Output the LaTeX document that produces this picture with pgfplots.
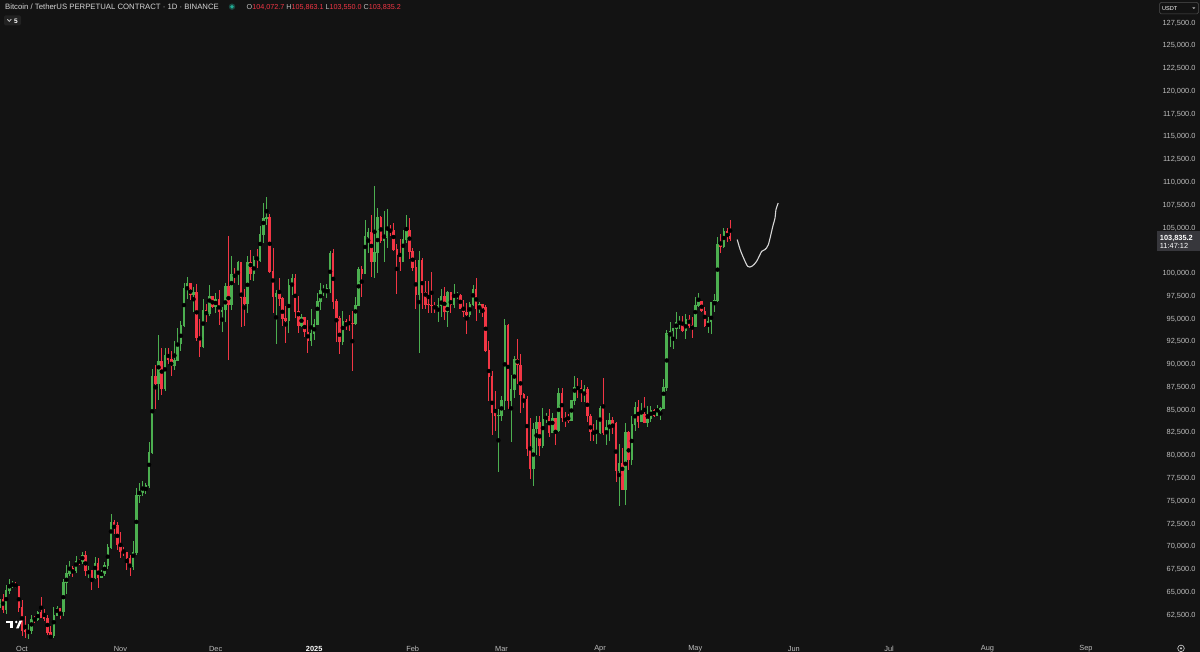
\documentclass[border=0pt]{standalone}
\usepackage{pgfplots}
\pgfplotsset{compat=1.18}
\usepackage{pgfplotstable}
\usepackage{fontspec}
\setmainfont{Liberation Sans}

\definecolor{bg}{RGB}{19,19,19}
\definecolor{upc}{RGB}{76,175,80}
\definecolor{dnc}{RGB}{242,54,69}
\definecolor{lbl}{RGB}{190,190,190}
\definecolor{titlec}{RGB}{214,214,214}
\definecolor{boxc}{RGB}{55,55,60}
\definecolor{dotc}{RGB}{34,171,148}
\definecolor{pen}{RGB}{215,215,215}

\newcommand\lblfont{\fontsize{7.4}{8.5}\selectfont}

% daily candles, d = days since 1 Oct 2024 (BTCUSDT perpetual, Binance)
\pgfplotstableread{
d o h l c
-7 63330 64800 62700 64260
-6 64260 64820 62700 63150
-5 63150 65840 62670 65180
-4 65180 66500 64800 65790
-3 65790 66260 65420 65890
-2 65890 66080 65420 65600
-1 65600 65620 62850 63330
0 63330 64130 60160 60800
1 60800 62390 60000 60650
2 60650 61470 59830 60750
3 60750 62480 60460 62070
4 62070 62370 61680 62050
5 62050 62980 61800 62820
6 62820 64480 62130 62220
7 62220 63200 61820 62130
8 62130 62530 60300 60580
9 60580 61320 58900 60270
10 60270 63420 60000 62450
11 62450 63480 62450 63190
12 63190 63280 62050 62850
13 62850 66500 62420 66050
14 66050 67950 64800 67040
15 67040 68420 66750 67610
16 67610 67930 66650 67400
17 67400 68980 67120 68430
18 68430 68690 68020 68360
19 68360 69400 68100 69000
20 69000 69520 66820 67370
21 67370 67840 66570 67380
22 67380 67450 65260 66650
23 66650 68850 66500 68170
24 68170 68780 65520 66630
25 66630 67450 66560 67000
26 67000 68350 66800 67940
27 67940 70270 67550 69910
28 69910 73620 69730 72720
29 72720 72960 71430 72340
30 72340 72700 69690 70220
31 70220 71630 68780 69500
32 69500 70000 68950 69370
33 69370 69400 67470 68770
34 68770 69050 66800 67810
35 67810 70580 67450 69360
36 69360 76400 69060 75640
37 75640 76950 74830 75900
38 75900 77200 75560 76550
39 76550 76950 75750 76680
40 76680 81500 76490 80370
41 80370 89530 80220 88700
42 88700 89940 85070 87960
43 87960 93270 86130 90400
44 90400 91790 86670 87320
45 87320 91850 87100 91060
46 91060 91800 90090 90580
47 90580 91450 88720 89850
48 89850 92600 89380 90470
49 90470 94000 90380 92310
50 92310 94830 91500 94290
51 94290 98970 94100 98350
52 98350 99590 97170 98890
53 98890 98890 97130 97670
54 97670 98560 95800 97900
55 97900 98870 92600 93010
56 93010 94970 90790 91970
57 91970 97210 91800 95950
58 95950 96650 94670 95640
59 95640 98690 95380 97460
60 97460 97500 96160 96410
61 96410 97840 95690 97180
62 97180 98150 94400 95840
63 95840 96300 93580 95990
64 95990 99000 94660 98580
65 98580 104090 90500 96590
66 96590 101900 95980 99920
67 99920 100550 98950 99890
68 99890 101400 98770 101170
69 101170 101200 94150 97320
70 97320 98270 94260 96680
71 96680 101890 95620 101170
72 101170 102540 99310 100040
73 100040 101900 99210 101460
74 101460 102650 100630 101370
75 101370 105250 101240 104300
76 104300 107780 103320 106060
77 106060 108350 105320 106140
78 106140 106520 100000 100200
79 100200 102800 95670 97460
80 97460 98140 92230 97760
81 97760 99540 96400 97220
82 97220 97400 94200 95100
83 95100 96420 92400 94880
84 94880 99420 93450 98690
85 98690 99960 97600 99410
86 99410 99960 95140 95800
87 95800 97550 93500 94260
88 94260 95540 94090 95180
89 95180 95200 93050 93570
90 93570 94900 91300 92650
91 92650 96150 92000 93400
92 93400 95000 92750 94420
93 94420 97850 94400 96890
94 96890 98980 96030 98110
95 98110 98730 97530 98240
96 98240 98830 97280 98340
97 98340 102480 97900 102240
98 102240 102710 96120 96950
99 96950 97250 92500 95040
100 95040 95350 91200 92480
101 92480 95850 92200 94700
102 94700 95000 93830 94560
103 94560 95400 93700 94520
104 94520 95880 89260 94500
105 94500 97370 94300 96530
106 96530 100680 96500 100500
107 100500 100850 97370 99990
108 99990 105880 99950 104080
109 104080 104950 102280 104560
110 104560 106400 99650 101330
111 101330 109600 99550 102260
112 102260 107240 100100 106140
113 106140 106330 103350 103650
114 103650 106850 101250 103960
115 103960 107120 102750 104820
116 104820 105290 104110 104710
117 104710 105500 102520 102590
118 102590 103220 97780 102080
119 102080 103800 100270 101330
120 101330 104800 101300 103730
121 103730 106460 103300 104730
122 104730 106100 101560 102430
123 102430 102750 100280 100650
124 100650 101460 96150 97690
125 97690 102500 91230 101400
126 101400 101730 96150 97870
127 97870 99220 96150 96620
128 96620 99200 95650 96550
129 96550 100140 95620 96460
130 96460 96880 95700 96450
131 96450 97320 94730 96460
132 96460 98350 95250 97430
133 97430 98500 94850 95780
134 95780 98120 94090 97870
135 97870 98000 95700 96610
136 96610 98830 96250 97500
137 97500 97970 97220 97570
138 97570 97730 96050 96120
139 96120 97050 95200 95770
140 95770 96750 93390 95540
141 95540 96900 95230 96630
142 96630 98770 96430 98300
143 98300 99510 94800 96140
144 96140 96880 95690 96580
145 96580 96600 95210 96270
146 96270 96500 91370 91550
147 91550 92540 86050 88730
148 88730 89350 82250 84700
149 84700 87050 82750 84350
150 84350 85120 78250 84370
151 84370 86560 83820 86030
152 86030 95000 85050 94270
153 94270 94420 85080 86070
154 86070 88900 81500 87220
155 87220 90990 86380 90620
156 90620 92800 87850 89960
157 89960 91200 84670 86740
158 86740 86850 85250 86150
159 86150 86500 80000 80730
160 80730 84120 77460 78530
161 78530 83620 76620 82930
162 82930 84360 80070 83680
163 83680 84300 79940 81070
164 81070 85260 80800 83970
165 83970 84670 83630 84340
166 84340 85120 82000 82580
167 82580 84730 82470 84080
168 84080 84100 81130 82720
169 82720 87450 82600 86850
170 86850 87440 83650 84170
171 84170 84780 83170 84040
172 84040 84550 83640 83830
173 83830 86130 83790 86080
174 86080 88750 85540 87500
175 87500 88540 86310 87390
176 87390 88290 85860 86910
177 86910 87790 85860 87230
178 87230 87520 83650 84350
179 84350 84570 81640 82650
180 82650 83500 81560 82390
181 82390 83940 81280 82550
182 82550 85490 82430 85160
183 85160 88500 82320 82500
184 82500 83950 81200 83100
185 83100 84720 81660 83840
186 83840 84230 82370 83500
187 83500 83750 77150 78370
188 78370 81240 74510 79160
189 79160 80860 76240 76320
190 76320 83590 74620 82600
191 82600 82700 78460 79600
192 79600 84300 78930 83400
193 83400 85880 82760 85280
194 85280 86100 83080 83740
195 83740 85800 83680 84540
196 84540 86450 83600 83620
197 83620 85500 83130 84030
198 84030 85450 83750 84940
199 84940 85100 84280 84450
200 84450 85600 84350 85060
201 85060 85320 83950 85170
202 85170 88460 85140 87520
203 87520 93820 87080 93440
204 93440 94700 91930 93690
205 93690 94000 91660 93980
206 93980 95750 92800 94640
207 94640 95300 93880 94650
208 94650 95350 93620 93750
209 93750 95600 92800 94980
210 94980 95450 93980 94280
211 94280 95210 92900 94170
212 94170 97420 94100 96490
213 96490 97880 96350 96900
214 96900 96950 95750 95890
215 95890 96320 94150 94320
216 94320 95180 93520 94750
217 94750 96900 93370 96800
218 96800 97700 95800 97030
219 97030 103960 96880 103240
220 103240 104350 102240 102970
221 102970 104980 102820 104630
222 104630 104950 103500 104072.7
223 104072.7 105863.1 103550 103835.2
}\candles

\begin{document}
\begin{tikzpicture}[x=1pt,y=1pt]
\fill[bg] (0,0) rectangle (1200,652);
\useasboundingbox (0,0) rectangle (1200,652);

\begin{axis}[
  at={(0,15)}, anchor=south west,
  width=1155pt, height=637pt, scale only axis,
  xmin=-6.927, xmax=356.74,
  ymin=59944, ymax=129882,
  axis line style={draw=none},
  major tick length=0pt,
  scaled y ticks=false,
  ytick={62500,65000,67500,70000,72500,75000,77500,80000,82500,85000,
         87500,90000,92500,95000,97500,100000,105000,107500,110000,
         112500,115000,117500,120000,122500,125000,127500},
  yticklabel pos=right,
  yticklabel style={anchor=east, xshift=44pt,
    /pgf/number format/.cd, fixed, fixed zerofill, precision=1,
    1000 sep={,}, assume math mode=true},
  xtick={0,31,61,92,123,151,182,212,243,273,304,335},
  xticklabels={Oct,Nov,Dec,{\color{white}\bfseries 2025},Feb,Mar,Apr,May,Jun,Jul,Aug,Sep},
  xticklabel style={anchor=center, yshift=-10.6pt},
  tick label style={font=\lblfont, text=lbl},
]
% wicks: low to high
\addplot[only marks, mark=none, forget plot,
  restrict expr to domain={\thisrow{c}-\thisrow{o}}{0:1000000},
  error bars/.cd, y dir=both, y explicit, error mark=none,
  error bar style={draw=upc, line width=0.8pt}]
  table[x=d, y expr={(\thisrow{h}+\thisrow{l})/2},
        y error expr={(\thisrow{h}-\thisrow{l})/2}] {\candles};
\addplot[only marks, mark=none, forget plot,
  restrict expr to domain={\thisrow{c}-\thisrow{o}}{-1000000:-0.01},
  error bars/.cd, y dir=both, y explicit, error mark=none,
  error bar style={draw=dnc, line width=0.8pt}]
  table[x=d, y expr={(\thisrow{h}+\thisrow{l})/2},
        y error expr={(\thisrow{h}-\thisrow{l})/2}] {\candles};
% bodies: open to close, as vertical vectors
\addplot[forget plot, draw=upc, line width=2.5pt, line cap=butt,
  restrict expr to domain={\thisrow{c}-\thisrow{o}}{0:1000000},
  quiver={u=0, v={abs(\thisrow{c}-\thisrow{o})+90}}]
  table[x=d, y expr={min(\thisrow{o},\thisrow{c})-45}] {\candles};
\addplot[forget plot, draw=dnc, line width=2.5pt, line cap=butt,
  restrict expr to domain={\thisrow{c}-\thisrow{o}}{-1000000:-0.01},
  quiver={u=0, v={abs(\thisrow{c}-\thisrow{o})+90}}]
  table[x=d, y expr={min(\thisrow{o},\thisrow{c})-45}] {\candles};
% hand-drawn projection
\addplot[smooth, tension=0.5, draw=pen, line width=1.1pt] coordinates {
  (225.2,103719) (226.1,102654) (227.2,101699) (228.5,100787)
  (229.8,100787) (231.3,101336) (232.9,102434) (233.9,102620)
  (235.0,103170) (236.4,105179) (237.1,106090) (237.4,107012)
  (238.1,107737)};
\end{axis}

% header
\node[anchor=base west, inner sep=0, text=titlec, font=\fontsize{7.75}{9}\selectfont]
  at (5,642.3) {Bitcoin / TetherUS PERPETUAL CONTRACT · 1D · BINANCE};
\fill[dotc, opacity=0.35] (232,645.3) circle (3.2);
\fill[dotc] (232,645.3) circle (1.9);
\node[anchor=base west, inner sep=0, font=\fontsize{7.2}{9}\selectfont]
  at (246.5,642.3) {{\color{lbl}O}{\color{dnc}104,072.7} {\color{lbl}H}{\color{dnc}105,863.1}
   {\color{lbl}L}{\color{dnc}103,550.0} {\color{lbl}C}{\color{dnc}103,835.2}};
\fill[fill={rgb,255:red,34;green,34;blue,34}, rounded corners=1.5pt] (4,626.5) rectangle (21,636.5);
\draw[lbl, line width=0.8pt] (7.3,632.8) -- (9.3,630.6) -- (11.3,632.8);
\node[anchor=base west, inner sep=0, text=white, font=\fontsize{6.5}{8}\selectfont\bfseries]
  at (13.8,628.9) {5};

% USDT selector
\draw[draw={rgb,255:red,80;green,80;blue,80}, rounded corners=1.5pt, line width=0.5pt]
  (1159.5,638.2) rectangle (1198.5,649.5);
\node[anchor=base west, inner sep=0, text=white, font=\fontsize{5.6}{7}\selectfont]
  at (1161.8,641.5) {USDT};
\fill[lbl] (1192.3,644.6) -- (1195.3,644.6) -- (1193.8,643);

% last price label
\fill[boxc] (1157,400.5) rectangle (1200,421);
\node[anchor=base west, inner sep=0, text=white, font=\lblfont\bfseries]
  at (1159.7,411.4) {103,835.2};
\node[anchor=base west, inner sep=0, text=white, font=\lblfont]
  at (1159.7,403) {11:47:12};

% TradingView logo
\fill[white] (6,28.8) rectangle (12.6,31.3);
\fill[white] (9.6,23.7) rectangle (12.6,31.3);
\fill[white] (16.3,30) circle (1.35);
\fill[white] (19.4,31.3) -- (22,31.3) -- (18.7,23.7) -- (16.1,23.7) -- cycle;

% settings icon
\draw[lbl, line width=0.7pt] (1181,3.6) circle (3.3);
\fill[lbl] (1181,3.6) circle (1.2);
\end{tikzpicture}
\end{document}
